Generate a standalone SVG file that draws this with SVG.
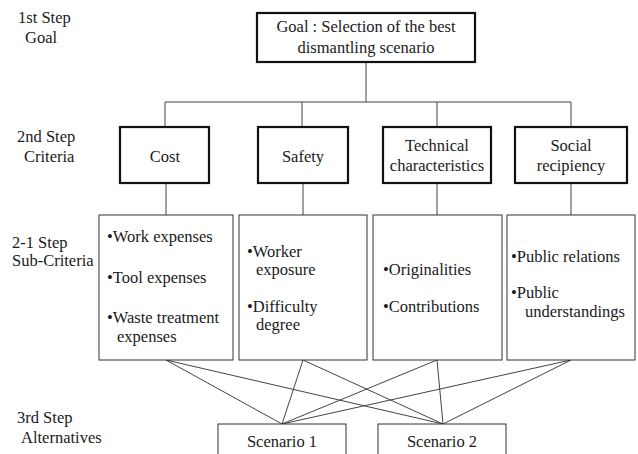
<svg xmlns="http://www.w3.org/2000/svg" width="638" height="454" viewBox="0 0 638 454">
<style>
text{font-family:'Liberation Serif','Times New Roman',serif;font-size:16.5px;fill:#1a1a1a}
.c{text-anchor:middle}
.thick{fill:#fff;stroke:#111;stroke-width:2.2}
.thin{fill:#fff;stroke:#333;stroke-width:1}
.ln{stroke:#444;stroke-width:1;fill:none}
</style>
<rect width="638" height="454" fill="#fff"/>
<g id="labels">
<text x="18" y="23">1st Step</text>
<text x="25" y="43">Goal</text>
<text x="17" y="142">2nd Step</text>
<text x="24" y="162">Criteria</text>
<text x="12" y="248">2-1 Step</text>
<text x="12" y="266">Sub-Criteria</text>
<text x="17" y="423">3rd Step</text>
<text x="21" y="443">Alternatives</text>
</g>
<g id="connectors">
<path class="ln" d="M366 62V102M165 102H571M165 102V127M302 102V127M437 102V127M571 102V127"/>
<path class="ln" d="M166 183V215M303 183V215M437 183V215M571 183V215"/>
<path class="ln" d="M166 360L282 424M166 360L443 424M303 360L282 424M303 360L443 424M437 360L282 424M437 360L443 424M571 360L282 424M571 360L443 424"/>
</g>
<g id="goal">
<rect class="thick" x="257" y="13" width="218" height="49"/>
<text class="c" x="366" y="32">Goal : Selection of the best</text>
<text class="c" x="366" y="53">dismantling scenario</text>
</g>
<g id="cost">
<rect class="thick" x="120" y="127" width="89" height="56"/>
<text class="c" x="165" y="162">Cost</text>
</g>
<g id="safety">
<rect class="thick" x="258" y="127" width="90" height="56"/>
<text class="c" x="303" y="162">Safety</text>
</g>
<g id="technical">
<rect class="thick" x="383" y="127" width="108" height="56"/>
<text class="c" x="437" y="151">Technical</text>
<text class="c" x="437" y="171">characteristics</text>
</g>
<g id="social">
<rect class="thick" x="515" y="127" width="112" height="56"/>
<text class="c" x="571" y="151">Social</text>
<text class="c" x="571" y="171">recipiency</text>
</g>
<g id="sub-cost">
<rect class="thin" x="99" y="215" width="134" height="145"/>
<text x="107" y="242">•Work expenses</text>
<text x="107" y="283">•Tool expenses</text>
<text x="107" y="323">•Waste treatment</text>
<text x="117" y="342">expenses</text>
</g>
<g id="sub-safety">
<rect class="thin" x="239" y="215" width="128" height="145"/>
<text x="247" y="257">•Worker</text>
<text x="256" y="275">exposure</text>
<text x="247" y="312">•Difficulty</text>
<text x="256" y="330">degree</text>
</g>
<g id="sub-technical">
<rect class="thin" x="373" y="215" width="129" height="145"/>
<text x="383" y="275">•Originalities</text>
<text x="383" y="312">•Contributions</text>
</g>
<g id="sub-social">
<rect class="thin" x="507" y="215" width="128" height="145"/>
<text x="511" y="262">•Public relations</text>
<text x="511" y="298">•Public</text>
<text x="525" y="317">understandings</text>
</g>
<g id="scenario1">
<rect class="thin" x="218" y="424" width="128" height="40"/>
<text class="c" x="282" y="447">Scenario 1</text>
</g>
<g id="scenario2">
<rect class="thin" x="378" y="424" width="128" height="40"/>
<text class="c" x="442" y="447">Scenario 2</text>
</g>
</svg>
